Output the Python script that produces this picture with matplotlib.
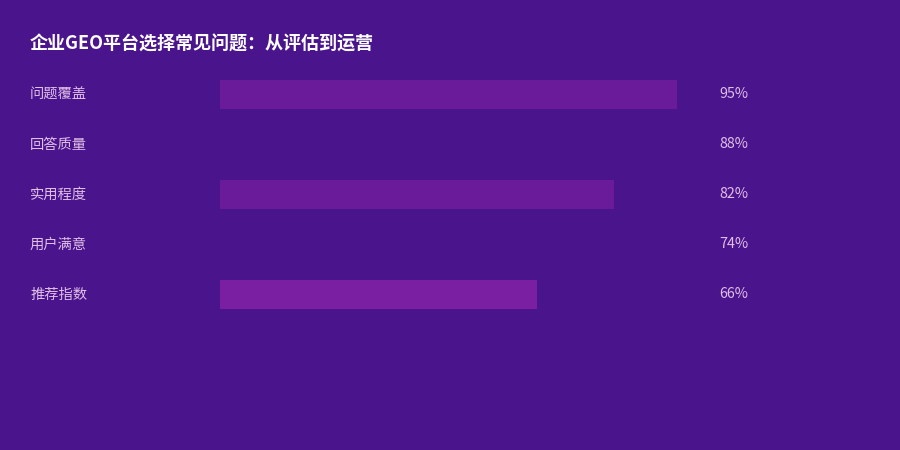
import matplotlib
matplotlib.use("Agg")
import matplotlib.pyplot as plt
from matplotlib.transforms import blended_transform_factory

plt.rcParams['font.family'] = ['Noto Sans CJK SC', 'DejaVu Sans']

categories = ["问题覆盖", "回答质量", "实用程度", "用户满意", "推荐指数"]
values = [95, 88, 82, 74, 66]
value_labels = ["95%", "88%", "82%", "74%", "66%"]
bar_colors = ["#6A1B9A", "#4A148C", "#6A1B9A", "#4A148C", "#7B1FA2"]
title = "企业GEO平台选择常见问题：从评估到运营"

BG = "#4A148C"
W, H = 900, 450
fig = plt.figure(figsize=(9, 4.5), dpi=100, facecolor=BG)

# axes: x from 220px to 701px (0..100), rows 50px apart starting at y=69.5px
ax = fig.add_axes([220 / W, 1 - 319.5 / H, 481 / W, 250 / H])
ax.set_facecolor(BG)
ypos = list(range(len(categories)))
ax.barh(ypos, values, height=0.58, color=bar_colors, left=0)
ax.set_xlim(0, 100)
ax.set_ylim(len(categories) - 0.5, -0.5)
ax.axis("off")

tr = blended_transform_factory(fig.transFigure, ax.transData)
for y, cat, lab in zip(ypos, categories, value_labels):
    fig.text(30 / W, y, cat, transform=tr, ha="left", va="center",
             fontsize=10.3, color="#E1BEE7")
    fig.text(719.5 / W, y, lab, transform=tr, ha="left", va="center",
             fontsize=10.3, color="#E1BEE7")

fig.text(30 / W, 1 - 44 / H, title, ha="left", va="center",
         fontsize=13, fontweight="bold", color="white")

fig.savefig("out.png", dpi=100, facecolor=BG)
